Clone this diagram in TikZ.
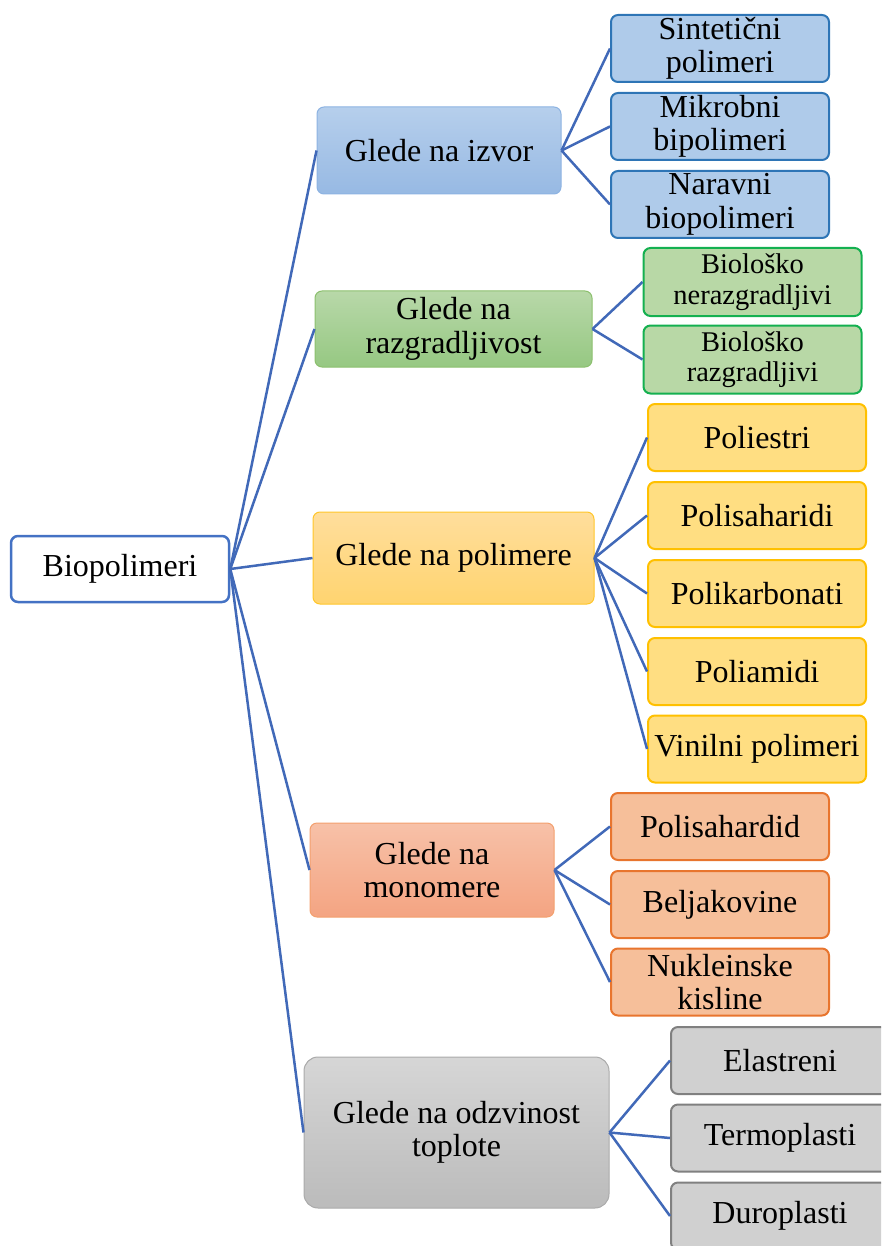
\documentclass[tikz,border=0pt]{standalone}
\usepackage{fontspec}
\setmainfont{Liberation Serif}
\definecolor{linkblue}{HTML}{4169B8}
\definecolor{rootedge}{HTML}{4472C4}
\definecolor{bluetop}{HTML}{B6CFEC}
\definecolor{bluebot}{HTML}{97B9E3}
\definecolor{blueedge}{HTML}{8DB3E2}
\definecolor{bluefill}{HTML}{AFCBEA}
\definecolor{bluedark}{HTML}{2E75B6}
\definecolor{greentop}{HTML}{B8D8A9}
\definecolor{greenbot}{HTML}{96C882}
\definecolor{greenedge}{HTML}{8CC06E}
\definecolor{greenfill}{HTML}{B8D8A6}
\definecolor{greendark}{HTML}{14B050}
\definecolor{yellowtop}{HTML}{FFDE9C}
\definecolor{yellowbot}{HTML}{FFD470}
\definecolor{yellowedge}{HTML}{FFC62A}
\definecolor{yellowfill}{HTML}{FFDE82}
\definecolor{yellowdark}{HTML}{FFC000}
\definecolor{orangetop}{HTML}{F7C1A8}
\definecolor{orangebot}{HTML}{F4A482}
\definecolor{orangeedge}{HTML}{F3A06E}
\definecolor{orangefill}{HTML}{F6BF9A}
\definecolor{orangedark}{HTML}{E8752E}
\definecolor{graytop}{HTML}{D6D6D6}
\definecolor{graybot}{HTML}{BBBBBB}
\definecolor{grayedge}{HTML}{AAAAAA}
\definecolor{grayfill}{HTML}{D0D0D0}
\definecolor{graydark}{HTML}{808080}
\tikzset{
  box/.style={rounded corners=7pt, align=center, inner sep=0pt,
    font=\fontsize{32}{33.5}\selectfont},
  smallbox/.style={box, font=\fontsize{28.5}{30.5}\selectfont},
  lone/.style={box, line width=1pt},
  ltwo/.style={box, line width=2pt, minimum width=218pt, minimum height=67pt},
  link/.style={draw=linkblue, line width=2.5pt},
}
\begin{document}
\begin{tikzpicture}[x=1pt, y=-1pt]
\useasboundingbox (0,0) rectangle (881,1246);
\clip (0,0) rectangle (881,1246);
% root
\node[box, draw=rootedge, line width=2.5pt, fill=white, minimum width=218pt, minimum height=66pt] (root) at (120,569) {Biopolimeri};
% level 1
\node[lone, draw=blueedge, top color=bluetop, bottom color=bluebot, minimum width=244pt, minimum height=87pt] (izvor) at (439,150.5) {Glede na izvor};
\node[lone, draw=greenedge, top color=greentop, bottom color=greenbot, minimum width=277pt, minimum height=76pt] (razg) at (453.5,329) {Glede na\\razgradljivost};
\node[lone, draw=yellowedge, top color=yellowtop, bottom color=yellowbot, minimum width=281pt, minimum height=92pt] (poli) at (453.5,558) {Glede na polimere};
\node[lone, draw=orangeedge, top color=orangetop, bottom color=orangebot, minimum width=244pt, minimum height=94pt] (mono) at (432,870) {Glede na\\monomere};
\node[lone, draw=grayedge, top color=graytop, bottom color=graybot, rounded corners=14pt, minimum width=305pt, minimum height=151pt] (topl) at (456.5,1132.5) {Glede na odzvinost\\toplote};
% level 2 blue
\node[ltwo, draw=bluedark, fill=bluefill] (b1) at (720,48.5) {Sintetični\\polimeri};
\node[ltwo, draw=bluedark, fill=bluefill] (b2) at (720,126.5) {Mikrobni\\bipolimeri};
\node[ltwo, draw=bluedark, fill=bluefill] (b3) at (720,204.5) {Naravni\\biopolimeri};
% green
\node[ltwo, smallbox, draw=greendark, fill=greenfill, minimum height=68pt] (g1) at (752.5,282) {Biološko\\nerazgradljivi};
\node[ltwo, smallbox, draw=greendark, fill=greenfill, minimum height=68pt] (g2) at (752.5,359.5) {Biološko\\razgradljivi};
% yellow
\node[ltwo, draw=yellowdark, fill=yellowfill] (y1) at (757,437.5) {Poliestri};
\node[ltwo, draw=yellowdark, fill=yellowfill] (y2) at (757,515.5) {Polisaharidi};
\node[ltwo, draw=yellowdark, fill=yellowfill] (y3) at (757,593.5) {Polikarbonati};
\node[ltwo, draw=yellowdark, fill=yellowfill] (y4) at (757,671.5) {Poliamidi};
\node[ltwo, draw=yellowdark, fill=yellowfill] (y5) at (757,749) {Vinilni polimeri};
% orange
\node[ltwo, draw=orangedark, fill=orangefill] (o1) at (720,826.5) {Polisahardid};
\node[ltwo, draw=orangedark, fill=orangefill] (o2) at (720,904.5) {Beljakovine};
\node[ltwo, draw=orangedark, fill=orangefill] (o3) at (720,982) {Nukleinske\\kisline};
% gray
\node[ltwo, draw=graydark, fill=grayfill] (s1) at (780,1060.5) {Elastreni};
\node[ltwo, draw=graydark, fill=grayfill] (s2) at (780,1138) {Termoplasti};
\node[ltwo, draw=graydark, fill=grayfill] (s3) at (780,1216) {Duroplasti};
% connectors
\foreach \n in {izvor,razg,poli,mono,topl} \draw[link] (root.east) -- (\n.west);
\foreach \n in {b1,b2,b3} \draw[link] (izvor.east) -- (\n.west);
\foreach \n in {g1,g2} \draw[link] (razg.east) -- (\n.west);
\foreach \n in {y1,y2,y3,y4,y5} \draw[link] (poli.east) -- (\n.west);
\foreach \n in {o1,o2,o3} \draw[link] (mono.east) -- (\n.west);
\foreach \n in {s1,s2,s3} \draw[link] (topl.east) -- (\n.west);
\end{tikzpicture}
\end{document}
